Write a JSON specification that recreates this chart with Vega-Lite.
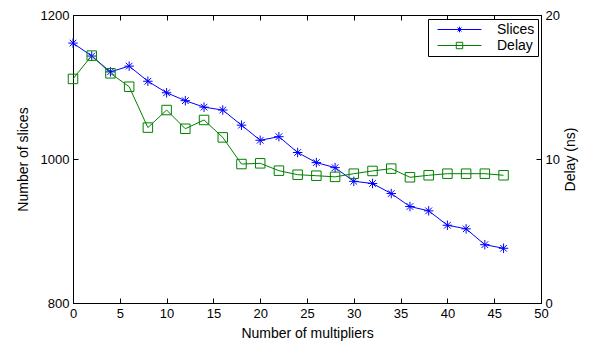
{
  "$schema": "https://vega.github.io/schema/vega-lite/v6.json",
  "width": 468,
  "height": 288,
  "autosize": {"type": "none"},
  "padding": {"left": 73, "top": 15, "right": 50, "bottom": 43},
  "background": "white",
  "config": {
    "font": "Liberation Sans",
    "view": {"stroke": "black", "strokeWidth": 1},
    "axis": {
      "grid": false,
      "labelFont": "Liberation Sans",
      "labelFontSize": 13,
      "labelColor": "black",
      "titleFont": "Liberation Sans",
      "titleFontSize": 14,
      "titleFontWeight": "normal",
      "titleColor": "black",
      "tickColor": "black",
      "domainColor": "black",
      "tickSize": -5,
      "labelPadding": 9,
      "labelFlush": false,
      "format": "d"
    },
    "legend": {
      "orient": "none",
      "legendX": 355,
      "legendY": 4,
      "strokeColor": "black",
      "fillColor": "white",
      "padding": 3,
      "labelFont": "Liberation Sans",
      "labelFontSize": 14,
      "labelColor": "black",
      "labelAlign": "left",
      "gridAlign": "all",
      "symbolSize": 196,
      "symbolStrokeWidth": 1,
      "symbolOpacity": 1,
      "symbolFillColor": "transparent",
      "symbolOffset": 21,
      "labelOffset": 30,
      "rowPadding": 1
    }
  },
  "data": {
    "values": [
      {"m": 0, "slices": 1161, "delay": 15.56},
      {"m": 2, "slices": 1143, "delay": 17.18},
      {"m": 4, "slices": 1121, "delay": 15.95},
      {"m": 6, "slices": 1129, "delay": 15.02},
      {"m": 8, "slices": 1108, "delay": 12.18},
      {"m": 10, "slices": 1092, "delay": 13.40},
      {"m": 12, "slices": 1081, "delay": 12.10},
      {"m": 14, "slices": 1072, "delay": 12.71},
      {"m": 16, "slices": 1068, "delay": 11.50},
      {"m": 18, "slices": 1047, "delay": 9.65},
      {"m": 20, "slices": 1026, "delay": 9.70},
      {"m": 22, "slices": 1031, "delay": 9.19},
      {"m": 24, "slices": 1009, "delay": 8.91},
      {"m": 26, "slices": 995, "delay": 8.84},
      {"m": 28, "slices": 988, "delay": 8.76},
      {"m": 30, "slices": 969, "delay": 8.98},
      {"m": 32, "slices": 966, "delay": 9.17},
      {"m": 34, "slices": 952, "delay": 9.33},
      {"m": 36, "slices": 934, "delay": 8.73},
      {"m": 38, "slices": 928, "delay": 8.87},
      {"m": 40, "slices": 908, "delay": 8.98},
      {"m": 42, "slices": 903, "delay": 8.98},
      {"m": 44, "slices": 881, "delay": 8.98},
      {"m": 46, "slices": 876, "delay": 8.87}
    ]
  },
  "layer": [
    {
      "encoding": {
        "x": {
          "field": "m",
          "type": "quantitative",
          "scale": {"domain": [0, 50], "nice": false},
          "axis": {"orient": "bottom", "values": [0, 5, 10, 15, 20, 25, 30, 35, 40, 45, 50], "title": "Number of multipliers", "titlePadding": 6}
        },
        "y": {
          "field": "slices",
          "type": "quantitative",
          "scale": {"domain": [800, 1200], "nice": false, "zero": false},
          "axis": {"orient": "left", "values": [800, 1000, 1200], "title": "Number of slices", "titlePadding": 10}
        },
        "stroke": {
          "datum": "Slices",
          "scale": {"domain": ["Slices", "Delay"], "range": ["#0000ff", "#008000"]},
          "legend": {"title": null}
        }
      },
      "layer": [
        {"mark": {"type": "line", "strokeWidth": 1}},
        {"mark": {"type": "point", "filled": false, "fillOpacity": 0, "shape": "M0,-1L0,1M-1,0L1,0M-0.7,-0.7L0.7,0.7M-0.7,0.7L0.7,-0.7", "size": 90, "strokeWidth": 1, "opacity": 1}},
        {
          "mark": {"type": "point", "filled": false, "opacity": 0, "size": 196},
          "encoding": {
            "shape": {
              "datum": "Slices",
              "scale": {"domain": ["Slices", "Delay"], "range": ["M-3.14,0L3.14,0M0,-0.4L0,0.4M-0.4,0L0.4,0M-0.28,-0.28L0.28,0.28M-0.28,0.28L0.28,-0.28", "M-3.14,0L3.14,0M-0.46,-0.46L0.46,-0.46L0.46,0.46L-0.46,0.46Z"]},
              "legend": {"title": null}
            }
          }
        }
      ]
    },
    {
      "encoding": {
        "x": {
          "field": "m",
          "type": "quantitative",
          "axis": {"orient": "top", "values": [0, 5, 10, 15, 20, 25, 30, 35, 40, 45, 50], "labels": false, "title": null, "domain": false}
        },
        "y": {
          "field": "delay",
          "type": "quantitative",
          "scale": {"domain": [0, 20], "nice": false},
          "axis": {"orient": "right", "values": [0, 10, 20], "title": "Delay (ns)", "titleAngle": 270, "titlePadding": 18}
        },
        "stroke": {"datum": "Delay"}
      },
      "layer": [
        {"mark": {"type": "line", "strokeWidth": 1}},
        {"mark": {"type": "point", "filled": false, "fillOpacity": 0, "shape": "square", "size": 90, "strokeWidth": 1, "opacity": 1}},
        {
          "mark": {"type": "point", "filled": false, "opacity": 0, "size": 196},
          "encoding": {"shape": {"datum": "Delay"}}
        }
      ]
    }
  ],
  "resolve": {"scale": {"y": "independent"}, "axis": {"x": "independent"}}
}
